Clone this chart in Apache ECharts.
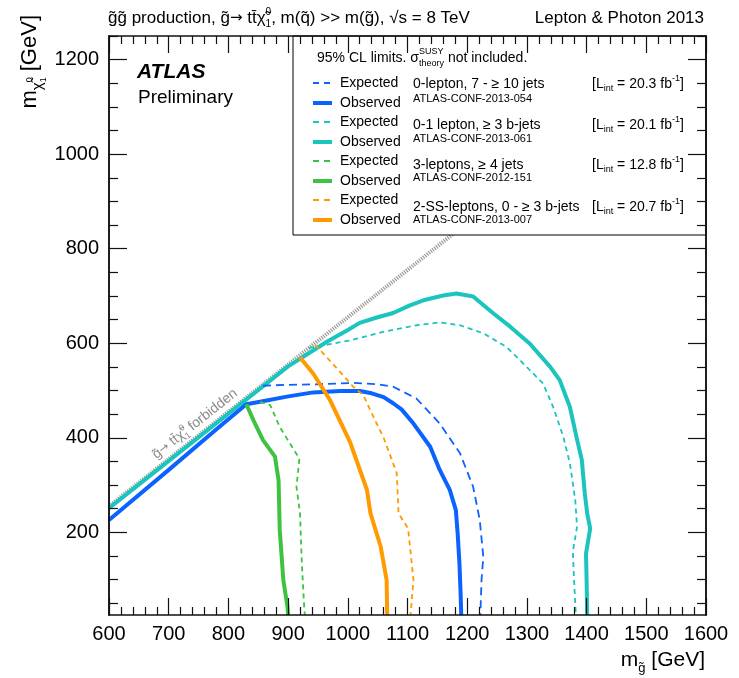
<!DOCTYPE html>
<html><head><meta charset="utf-8">
<script src="https://cdn.jsdelivr.net/npm/echarts@6/dist/echarts.min.js"></script>
<style>html,body{margin:0;padding:0;background:#fff}#c{width:739px;height:678px}</style>
</head><body><div id="c"></div>
<script>
// ---------- data ----------
const xMin = 600, xMax = 1600, yMin = 25, yMax = 1250;
const xInterval = 100;
const yMajorTicks = [200, 400, 600, 800, 1000, 1200];
const yMinorTicks = [50,100,150,250,300,350,450,500,550,650,700,750,850,900,950,1050,1100,1150,1250];

const diagonal = [[600, 255], [1595, 1250]];

const blueObs = [[600,226],[700,332],[780,418],[830,471],[853,476],[898,487],[942,496],[987,499],[1020,499],[1040,494],[1060,486],[1076,473],[1090,460],[1110,430],[1138,381],[1154,332],[1171,289],[1181,247],[1184,198],[1187,134],[1189,70],[1190,25]];
const blueExp = [[858,510],[900,512],[942,513],[1009,516],[1050,513],[1076,508],[1115,483],[1154,430],[1188,367],[1210,296],[1221,226],[1227,148],[1224,99],[1222,25]];

const cyanObs = [[600,251],[700,351],[800,451],[900,551],[930,575],[965,603],[1000,628],[1020,643],[1050,655],[1076,664],[1104,680],[1130,692],[1160,701],[1182,705],[1210,699],[1244,663],[1272,635],[1305,599],[1339,550],[1355,522],[1372,465],[1383,402],[1392,353],[1397,282],[1401,240],[1406,208],[1399,155],[1400,99],[1401,25]];
const cyanExp = [[935,590],[970,598],[1004,606],[1059,624],[1115,638],[1154,644],[1188,638],[1227,621],[1266,592],[1294,557],[1327,515],[1344,465],[1361,402],[1372,346],[1381,268],[1384,212],[1377,159],[1379,99],[1382,25]];

const greenObs = [[830,471],[842,437],[858,395],[878,360],[884,310],[886,205],[892,99],[899,42],[900,25]];
const greenExp = [[853,476],[870,469],[886,423],[903,388],[919,356],[914,296],[920,240],[923,134],[927,42],[928,25]];

const orangeObs = [[920,570],[942,536],[970,480],[1004,390],[1032,290],[1038,240],[1055,170],[1065,99],[1066,25]];
const orangeExp = [[945,597],[965,570],[990,535],[1009,508],[1026,490],[1043,444],[1060,400],[1082,325],[1085,240],[1101,208],[1110,99],[1105,25]];

const legendDesc = ['0-lepton, 7 - \u2265 10 jets', '0-1 lepton, \u2265 3 b-jets', '3-leptons, \u2265 4 jets', '2-SS-leptons, 0 - \u2265 3 b-jets'];
const legendConf = ['ATLAS-CONF-2013-054', 'ATLAS-CONF-2013-061', 'ATLAS-CONF-2012-151', 'ATLAS-CONF-2013-007'];
const legendLumi = ['20.3', '20.1', '12.8', '20.7'];

// ---------- styles ----------
const FF = "'Liberation Sans', Arial, Helvetica, sans-serif";
const FA = "'DejaVu Sans', sans-serif";
const C = { blue: '#0a62ff', cyan: '#1cc4be', green: '#3fc23f', orange: '#ff9a00', grey: '#9a9a9a' };
const ctx = document.createElement('canvas').getContext('2d');
function fnt(s, w, ff) { return (w ? w + ' ' : '') + s + 'px ' + (ff || FF); }
function tw(t, f) { ctx.font = f; return ctx.measureText(t).width; }
function seq(parts, z, fill) {
  let cx = 0, stackW = 0; const ch = [];
  for (const p of parts) {
    const f = fnt(p.s, p.w, p.ff);
    ch.push({ type: 'text', x: cx, y: p.dy || 0, z: z, silent: true,
      style: { text: p.t, font: f, fill: fill || '#000', textAlign: 'left', textVerticalAlign: 'middle' } });
    const w = tw(p.t, f);
    if (p.stack) { stackW = w; } else { cx += Math.max(w, stackW); stackW = 0; }
  }
  return { children: ch, width: cx };
}
function grp(parts, x, y, opt) {
  opt = opt || {};
  const z = opt.z || 20;
  const s = seq(parts, z, opt.fill);
  const r = opt.rot || 0;
  let off = 0;
  if (opt.align === 'right') off = s.width;
  if (opt.align === 'center') off = s.width / 2;
  return { type: 'group', x: x - off * Math.cos(r), y: y + off * Math.sin(r), rotation: r, z: z, children: s.children };
}

const graphics = [];
// title
graphics.push(grp([{t:'g\u0303g\u0303 production, g\u0303', s:17}, {t:'\u2192', s:15, ff:FA}, {t:' tt\u0304\u03c7\u0303', s:17}, {t:'0', s:10, dy:-6, stack:true}, {t:'1', s:10, dy:6}, {t:', m(q\u0303) >> m(g\u0303), \u221as = 8 TeV', s:17}], 108, 18));
graphics.push(grp([{t:'Lepton & Photon 2013', s:17}], 704, 18, {align:'right'}));
// ATLAS
graphics.push(grp([{t:'ATLAS', s:21, w:'italic bold'}], 137, 72));
graphics.push(grp([{t:'Preliminary', s:19}], 138, 98));
// axis titles
graphics.push(grp([{t:'m', s:21}, {t:'g\u0303', s:13, dy:8}, {t:' [GeV]', s:21}], 705, 660, {align:'right'}));
graphics.push(grp([{t:'m', s:22}, {t:'\u03c7\u0303', s:15, dy:8}, {t:'0', s:9, dy:0, stack:true}, {t:'1', s:9, dy:14}, {t:' [GeV]', s:22}], 30, 15, {align:'right', rot:Math.PI/2}));
// forbidden label
graphics.push(grp([{t:'g\u0303', s:14}, {t:'\u2192', s:12, ff:FA}, {t:' tt\u0304\u03c7\u0303', s:14}, {t:'0', s:9, dy:-5, stack:true}, {t:'1', s:9, dy:5}, {t:' forbidden', s:14}], 195, 424, {align:'center', rot:0.67, fill:'#8a8a8a'}));

// legend box
graphics.push({ type:'rect', z:5, shape:{x:293, y:36, width:413, height:199}, style:{fill:'#fff', stroke:'#000', lineWidth:1} });
graphics.push(grp([{t:'95% CL limits. \u03c3', s:14}, {t:'SUSY', s:9, dy:-6, stack:true}, {t:'theory', s:9, dy:6}, {t:' not included.', s:14}], 317, 58));
const rowE = [83, 122, 161, 200], rowO = [103, 142, 181, 220];
const rowD = [84, 125, 165, 207], rowC = [99, 139, 178, 220];
const rowCol = [C.blue, C.cyan, C.green, C.orange];
for (let i = 0; i < 4; i++) {
  graphics.push({ type:'line', z:20, shape:{x1:313, y1:rowE[i], x2:332, y2:rowE[i]}, style:{stroke:rowCol[i], lineWidth:2, lineDash:[6,5]} });
  graphics.push({ type:'line', z:20, shape:{x1:313, y1:rowO[i], x2:332, y2:rowO[i]}, style:{stroke:rowCol[i], lineWidth:4} });
  graphics.push(grp([{t:'Expected', s:14}], 340, rowE[i]));
  graphics.push(grp([{t:'Observed', s:14}], 340, rowO[i]));
  graphics.push(grp([{t:legendDesc[i], s:14}], 413, rowD[i]));
  graphics.push(grp([{t:legendConf[i], s:11}], 413, rowC[i]));
  graphics.push(grp([{t:'[L', s:14}, {t:'int', s:9, dy:5}, {t:' = ' + legendLumi[i] + ' fb', s:14}, {t:'-1', s:9, dy:-5}, {t:']', s:14}], 592, rowD[i]));
}

// ---------- axes ----------
const axLine = { show:true, lineStyle:{color:'#111', width:1.5} };
const tickStyle = { color:'#111', width:1.2 };
const plain = v => String(v);
function xAx(pos, labels) {
  return { type:'value', position:pos, min:xMin, max:xMax, interval:xInterval, z:30,
    axisLine: axLine, axisTick:{show:true, inside:true, length:17, lineStyle:tickStyle},
    minorTick:{show:true, splitNumber:5, length:8, lineStyle:tickStyle},
    axisLabel:{show:labels, fontSize:20, fontFamily:FF, color:'#000', margin:9, formatter:plain},
    splitLine:{show:false}, minorSplitLine:{show:false} };
}
function yAx(pos, labels, ticks, len) {
  return { type:'value', position:pos, min:yMin, max:yMax, z:30,
    axisLine: axLine, axisTick:{show:true, inside:true, length:len, lineStyle:tickStyle, customValues:ticks},
    axisLabel:{show:labels, fontSize:20, fontFamily:FF, color:'#000', margin:10, customValues:ticks, formatter:plain},
    splitLine:{show:false} };
}

function lineSeries(data, color, width, dash, z) {
  return { type:'line', data:data, xAxisIndex:0, yAxisIndex:0, symbol:'none', smooth:false, z:z||3, clip:true,
    lineStyle:{color:color, width:width, type:dash || 'solid', cap:'butt', join:'round'}, silent:true, animation:false };
}

const chart = echarts.init(document.getElementById('c'), null, { renderer:'canvas' });
chart.setOption({
  animation:false,
  backgroundColor:'#fff',
  grid:{ left:109, right:33, top:36, bottom:63 },
  xAxis:[ xAx('bottom', true), xAx('top', false) ],
  yAxis:[ yAx('left', true, yMajorTicks, 18), yAx('left', false, yMinorTicks, 9), yAx('right', false, yMajorTicks, 18), yAx('right', false, yMinorTicks, 9) ],
  series:[
    lineSeries(diagonal, C.grey, 4, [1.2,1.2], 2),
    lineSeries(cyanExp, C.cyan, 1.8, [5,4]),
    lineSeries(cyanObs, C.cyan, 4),
    lineSeries(blueExp, C.blue, 1.8, [8,5]),
    lineSeries(blueObs, C.blue, 4),
    lineSeries(greenExp, C.green, 1.8, [5,4]),
    lineSeries(greenObs, C.green, 4),
    lineSeries(orangeExp, C.orange, 1.8, [5,4]),
    lineSeries(orangeObs, C.orange, 4)
  ],
  graphic: graphics
});
</script>
</body></html>
